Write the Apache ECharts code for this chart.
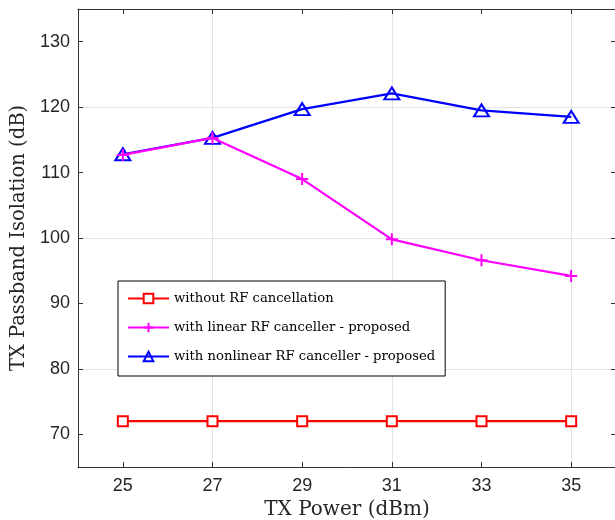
<!DOCTYPE html>
<html><head><meta charset="utf-8">
<script src="https://cdn.jsdelivr.net/npm/echarts@6/dist/echarts.min.js"></script>
<style>html,body{margin:0;padding:0;background:#fff}#c{width:615px;height:520px}</style>
</head><body><div id="c"></div>
<script>
const txPower = [25, 27, 29, 31, 33, 35];
const withoutRF = [72, 72, 72, 72, 72, 72];
const linearRF = [112.7, 115.3, 109.0, 99.8, 96.6, 94.2];
const nonlinearRF = [112.8, 115.3, 119.7, 122.1, 119.5, 118.5];
const yTicks = [70, 80, 90, 100, 110, 120, 130];
const seriesNames = ['without RF cancellation', 'with linear RF canceller - proposed', 'with nonlinear RF canceller - proposed'];

const axisCol = '#333333';
const gridCol = '#e3e3e3';
const serif = '"DejaVu Serif", "Liberation Serif", serif';
const sans = '"Liberation Sans", Arial, sans-serif';
const pair = arr => txPower.map((x, i) => [x, arr[i]]);
const plusPath = 'path://M0,5L10,5M5,0L5,10';
const clear = 'rgba(0,0,0,0)';

const chart = echarts.init(document.getElementById('c'), null, {renderer: 'canvas'});
chart.setOption({
  animation: false,
  backgroundColor: '#fff',
  grid: {left: 78, top: 9, right: -1, bottom: 53, containLabel: false, outerBoundsMode: 'none'},
  legend: {
    orient: 'vertical', left: 118, top: 281,
    padding: [11, 10, 13, 9],
    backgroundColor: '#fff', borderColor: '#000', borderWidth: 1,
    itemWidth: 41, itemHeight: 12, itemGap: 16,
    textStyle: {fontFamily: serif, fontSize: 13.2, color: '#000'},
    data: seriesNames
  },
  xAxis: [{
    type: 'value', min: 24, max: 36, interval: 1,
    name: 'TX Power (dBm)', nameLocation: 'middle', nameGap: 30,
    nameTextStyle: {fontFamily: serif, fontSize: 20, color: '#262626'},
    axisLine: {show: true, onZero: false, lineStyle: {color: axisCol, width: 1}},
    axisTick: {show: true, inside: true, length: 5, customValues: txPower, lineStyle: {color: axisCol}},
    axisLabel: {fontFamily: sans, fontSize: 18, color: '#262626', margin: 10, customValues: txPower},
    splitLine: {show: true, lineStyle: {color: [clear, gridCol], width: 1}}
  }, {
    type: 'value', position: 'top', min: 24, max: 36, interval: 1,
    axisLine: {show: true, onZero: false, lineStyle: {color: axisCol, width: 1}},
    axisTick: {show: true, inside: true, length: 5, customValues: txPower, lineStyle: {color: axisCol}},
    axisLabel: {show: false}, splitLine: {show: false}
  }],
  yAxis: [{
    type: 'value', min: 65, max: 135, interval: 5,
    name: 'TX Passband Isolation (dB)', nameLocation: 'middle', nameGap: 43,
    nameTextStyle: {fontFamily: serif, fontSize: 19.5, color: '#262626'},
    axisLine: {show: true, onZero: false, lineStyle: {color: axisCol, width: 1}},
    axisTick: {show: true, inside: true, length: 5, customValues: yTicks, lineStyle: {color: axisCol}},
    axisLabel: {fontFamily: sans, fontSize: 18, color: '#262626', margin: 8, customValues: yTicks},
    splitLine: {show: true, lineStyle: {color: [clear, gridCol], width: 1}}
  }, {
    type: 'value', position: 'right', min: 65, max: 135, interval: 5,
    axisLine: {show: false, onZero: false},
    axisTick: {show: true, inside: true, length: 5, customValues: yTicks, lineStyle: {color: axisCol}},
    axisLabel: {show: false}, splitLine: {show: false}
  }],
  series: [{
    name: seriesNames[0], type: 'line', data: pair(withoutRF),
    symbol: 'rect', symbolSize: 10, showAllSymbol: true,
    lineStyle: {color: '#ff0000', width: 2.2},
    itemStyle: {color: '#fff', borderColor: '#ff0000', borderWidth: 2}, z: 3
  }, {
    name: seriesNames[1], type: 'line', data: pair(linearRF),
    symbol: plusPath, symbolSize: 12, showAllSymbol: true,
    lineStyle: {color: '#ff00ff', width: 2.2},
    itemStyle: {color: '#ff00ff', borderColor: '#ff00ff', borderWidth: 2}, z: 4
  }, {
    name: seriesNames[2], type: 'line', data: pair(nonlinearRF),
    symbol: 'triangle', symbolSize: [15, 12], showAllSymbol: true,
    lineStyle: {color: '#0000ff', width: 2.2},
    itemStyle: {color: clear, borderColor: '#0000ff', borderWidth: 2}, z: 3
  }]
});
</script></body></html>
